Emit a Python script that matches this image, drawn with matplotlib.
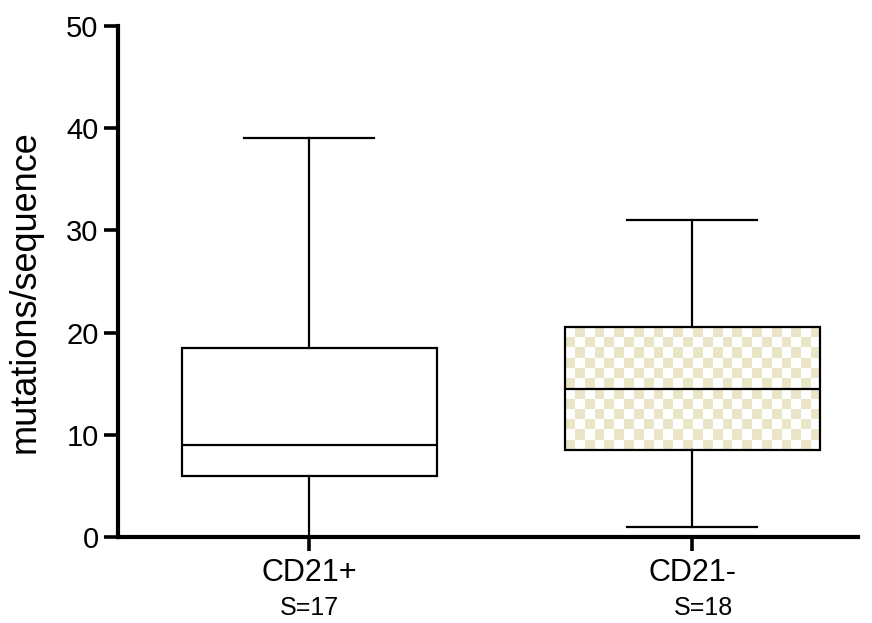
import numpy as np
import matplotlib
matplotlib.use("Agg")
import matplotlib.pyplot as plt
from matplotlib.patches import Rectangle
from matplotlib.transforms import blended_transform_factory

plt.rcParams["font.family"] = ["Liberation Sans", "DejaVu Sans"]

# data
groups = ["CD21+", "CD21-"]
counts = ["S=17", "S=18"]
whisker_low = [0, 1]
q1 = [6, 8.5]
medians = [9, 14.5]
q3 = [18.5, 20.5]
whisker_high = [39, 31]

positions = [1, 2]
box_width = 0.666
cap_width = 0.34
checker_color = "#ebe5c8"

fig = plt.figure(figsize=(8.72, 6.23), dpi=100)
ax = fig.add_axes([118 / 872, 1 - 537 / 623, 740 / 872, 511 / 623])

stats = []
for i in range(len(groups)):
    stats.append({
        "whislo": whisker_low[i], "q1": q1[i], "med": medians[i],
        "q3": q3[i], "whishi": whisker_high[i], "label": groups[i],
    })

line = dict(color="black", linewidth=1.6)
ax.bxp(stats, positions=positions, widths=box_width, capwidths=cap_width,
       showfliers=False, patch_artist=True,
       boxprops=dict(facecolor="none", edgecolor="black", linewidth=1.6),
       medianprops=line, whiskerprops=line, capprops=line, zorder=3)

# checkered fill for the second box
i = 1
left = positions[i] - box_width / 2
right = positions[i] + box_width / 2
ny, nx = 12, 26
checker = (np.add.outer(np.arange(ny), np.arange(nx)) % 2).astype(float)
cmap = matplotlib.colors.ListedColormap(["white", checker_color])
img = ax.imshow(checker, cmap=cmap, extent=(left, right, q1[i], q3[i]),
                aspect="auto", interpolation="nearest", zorder=2)
clip = Rectangle((left, q1[i]), box_width, q3[i] - q1[i], transform=ax.transData)
img.set_clip_path(clip)

ax.set_xlim(0.501, 2.433)
ax.set_ylim(0, 50)
ax.set_yticks([0, 10, 20, 30, 40, 50])
ax.set_xticks(positions)
ax.set_xticklabels(groups)

for side in ("top", "right"):
    ax.spines[side].set_visible(False)
for side in ("left", "bottom"):
    ax.spines[side].set_linewidth(3)
ax.tick_params(axis="both", direction="out", length=10, width=2.6,
               labelsize=21, pad=4)
ax.tick_params(axis="x", pad=5, labelsize=22)

trans = blended_transform_factory(ax.transData, ax.transAxes)
offsets = [0.0, 0.03]
for i in range(len(counts)):
    ax.text(positions[i] + offsets[i], -0.116, counts[i], transform=trans,
            ha="center", va="top", fontsize=18)

fig.text(25 / 872, 1 - 292 / 623, "mutations/sequence", rotation=90,
         ha="center", va="center", fontsize=26)

fig.savefig("out.png", dpi=100)
